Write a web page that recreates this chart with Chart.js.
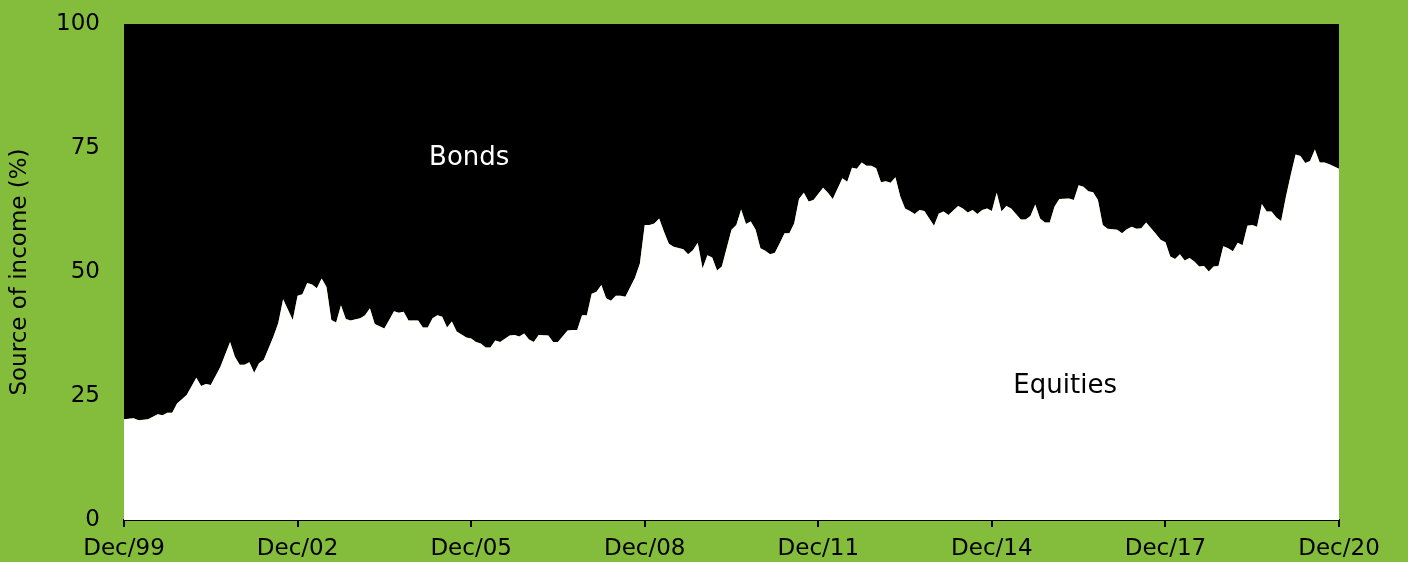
<!DOCTYPE html>
<html>
<head>
<meta charset="utf-8">
<script src="https://cdn.jsdelivr.net/npm/chart.js@4/dist/chart.umd.min.js"></script>
<style>
  html, body { margin: 0; padding: 0; background: #84bd3b; }
  #wrap { width: 1408px; height: 562px; position: relative; }
</style>
</head>
<body>
<div id="wrap"><canvas id="c" width="1408" height="562"></canvas></div>
<script>
// Months since Dec 1999 (0 = Dec/99, 252 = Dec/20)
const months = [0,2,3,5,7,8,9,10,11,13,15,16,17,18,20,22,23,24,25,26,27,28,29,31,32,33,35,36,37,38,39,40,41,42,43,44,45,46,47,49,50,51,52,54,55,56,57,58,59,61,62,63,64,65,66,67,68,69,71,72,73,74,75,76,77,78,80,81,82,83,84,85,86,88,89,90,92,93,94,95,96,97,98,99,100,101,102,103,104,106,107,108,109,110,111,112,113,114,116,117,118,119,120,121,122,123,124,126,127,128,129,130,131,132,133,134,135,136,137,138,139,140,141,142,143,145,146,147,149,150,151,152,153,154,155,156,157,158,159,160,161,162,163,164,165,166,168,169,170,171,173,174,175,176,177,178,179,180,181,182,183,184,186,187,188,189,190,191,192,193,194,196,197,198,199,200,201,202,203,204,206,207,208,209,210,211,212,214,215,216,217,218,219,220,221,222,223,224,225,226,227,228,229,230,231,232,233,234,235,236,237,238,239,240,241,242,243,244,245,246,247,248,249,250,252];
// Equities share of income (%)
const equities = [20.3,20.5,20.1,20.3,21.3,21.1,21.6,21.6,23.5,25.2,28.7,27.0,27.4,27.2,30.9,35.9,32.9,31.3,31.3,31.8,29.7,31.6,32.3,37.0,39.7,44.5,40.3,45.2,45.5,47.8,47.5,46.7,48.7,47.0,40.3,39.8,43.3,40.5,40.2,40.7,41.3,42.7,39.5,38.6,40.3,42.1,41.8,42.0,40.2,40.2,38.8,38.8,40.7,41.3,41.0,38.8,40.0,38.0,36.8,36.6,35.9,35.6,34.8,34.8,36.2,35.9,37.2,37.3,37.0,37.6,36.4,35.9,37.3,37.2,35.9,35.9,38.2,38.3,38.3,41.3,41.3,45.6,46.0,47.4,44.7,44.2,45.2,45.2,45.0,48.9,51.7,59.5,59.5,59.8,60.8,58.1,55.7,55.1,54.6,53.6,54.4,55.9,50.7,53.4,52.9,50.3,51.1,58.5,59.5,62.6,59.7,60.2,58.5,54.8,54.3,53.6,53.9,55.8,57.8,57.8,59.8,64.7,66.0,64.2,64.5,67.0,66.0,64.7,68.9,68.2,71.0,70.8,72.1,71.4,71.4,70.9,68.1,68.3,68.0,69.1,65.2,62.8,62.3,61.7,62.5,62.3,59.3,61.8,62.2,61.5,63.3,62.8,62.0,62.5,61.7,62.5,62.8,62.3,66.0,62.2,63.3,62.8,60.6,60.6,61.3,63.6,60.8,60.0,60.0,63.2,64.7,64.8,64.5,67.5,67.2,66.3,66.1,64.5,59.5,58.7,58.5,57.8,58.6,59.1,58.7,58.8,60.0,57.7,56.5,56.0,53.1,52.6,53.6,52.3,52.8,52.1,51.1,51.2,50.1,51.1,51.2,55.2,54.8,54.2,55.9,55.4,59.3,59.5,59.1,63.7,62.2,62.2,61.0,60.3,65.2,69.6,73.7,73.4,72.0,72.4,74.7,72.1,72.1,71.7,70.8];
// Bonds share is the remainder of 100%
const bonds = equities.map(v => 100 - v);
const tickMonths = [0,36,72,108,144,180,216,252];
const tickLabels = ['Dec/99','Dec/02','Dec/05','Dec/08','Dec/11','Dec/14','Dec/17','Dec/20'];
const seriesNames = ['Equities','Bonds'];
const annotations = [{text:'Bonds', x:71.6, y:73}, {text:'Equities', x:195.2, y:27}];

const FONT = '"DejaVu Sans", sans-serif';

const labelPlugin = {
  id: 'areaLabels',
  afterDatasetsDraw(chart) {
    const {ctx, scales} = chart;
    ctx.save();
    ctx.font = '26px ' + FONT;
    ctx.textAlign = 'center';
    ctx.textBaseline = 'middle';
    annotations.forEach((a, i) => {
      ctx.fillStyle = i === 0 ? '#ffffff' : '#000000';
      ctx.fillText(a.text, scales.x.getPixelForValue(a.x), scales.y.getPixelForValue(a.y));
    });
    ctx.restore();
  }
};

new Chart(document.getElementById('c'), {
  type: 'line',
  data: {
    datasets: [
      { label: seriesNames[0], data: months.map((m, i) => ({x: m, y: equities[i]})),
        backgroundColor: '#ffffff', borderWidth: 0, pointRadius: 0, fill: 'origin', tension: 0 },
      { label: seriesNames[1], data: months.map((m, i) => ({x: m, y: bonds[i]})),
        backgroundColor: '#000000', borderWidth: 0, pointRadius: 0, fill: '-1', tension: 0 }
    ]
  },
  options: {
    responsive: false,
    animation: false,
    events: [],
    layout: { padding: { left: 0, right: 69, top: 24, bottom: 0 } },
    plugins: { legend: { display: false }, tooltip: { enabled: false } },
    scales: {
      x: {
        type: 'linear', min: 0, max: 252,
        afterFit: s => { s.height = 42; s.paddingLeft = 0; s.paddingRight = 0; },
        afterBuildTicks: s => { s.ticks = tickMonths.map(v => ({value: v})); },
        ticks: { autoSkip: false, maxRotation: 0, padding: 8, color: '#000',
          font: { family: FONT, size: 23 },
          callback: (v) => { const i = tickMonths.indexOf(v); return i >= 0 ? tickLabels[i] : ''; } },
        grid: { drawOnChartArea: false, drawTicks: true, tickLength: 7, color: '#000', lineWidth: 2 },
        border: { display: true, color: '#000', width: 2 }
      },
      y: {
        stacked: true, min: 0, max: 100,
        afterFit: s => { s.width = 124; s.paddingTop = 0; s.paddingBottom = 0; },
        ticks: { stepSize: 25, padding: 24, color: '#000', font: { family: FONT, size: 23 } },
        grid: { display: false, drawTicks: false },
        border: { display: false },
        title: { display: true, text: 'Source of income (%)', color: '#000',
          font: { family: FONT, size: 23 }, padding: { top: 6, bottom: 0 } }
      }
    }
  },
  plugins: [labelPlugin]
});
</script>
</body>
</html>
